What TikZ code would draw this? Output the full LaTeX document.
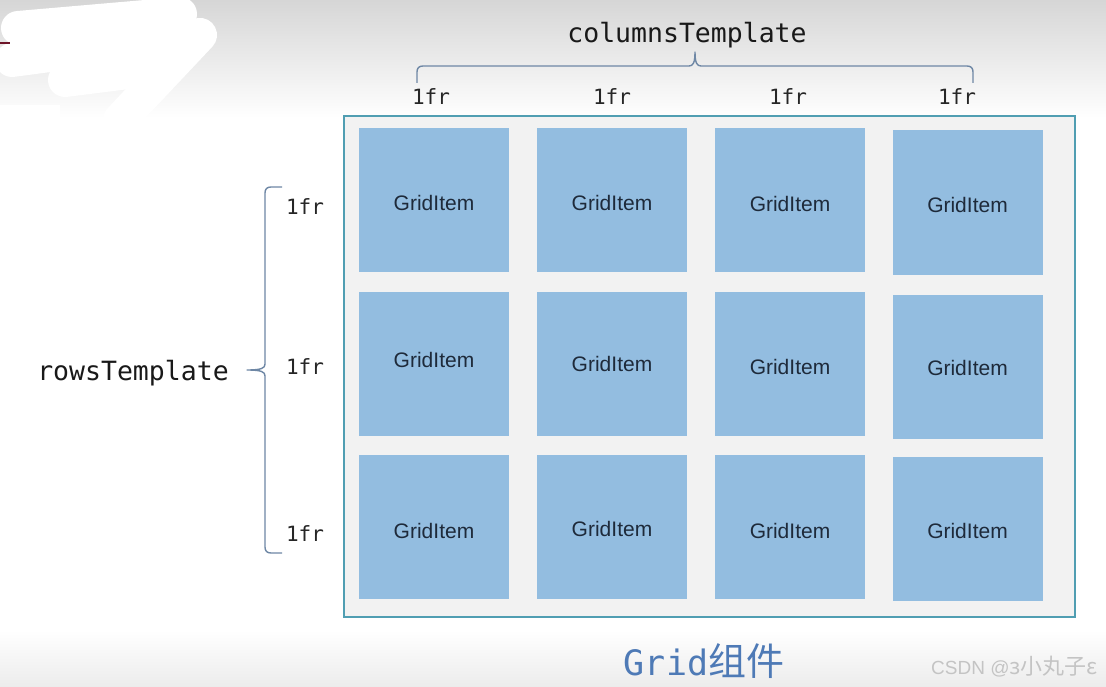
\documentclass[tikz,border=0pt]{standalone}
\usepackage{fontspec}
\setmainfont{Liberation Sans}
\newfontfamily\monof{DejaVu Sans Mono}
\newfontfamily\cjkf{Noto Sans CJK SC}
\definecolor{cellblue}{RGB}{147,189,224}
\definecolor{frameteal}{RGB}{80,158,178}
\definecolor{innergray}{RGB}{242,242,242}
\definecolor{bracecol}{RGB}{110,135,165}
\definecolor{titleblue}{RGB}{78,122,182}
\definecolor{textnavy}{RGB}{30,42,58}
\definecolor{bgtop}{RGB}{214,214,214}
\definecolor{bgbot}{RGB}{236,236,236}
\definecolor{wmgray}{RGB}{196,196,196}
\definecolor{darkred}{RGB}{110,20,40}
\tikzset{
  cell/.style={fill=cellblue, draw=none, minimum width=150pt, minimum height=144pt, inner sep=0pt},
  celltext/.style={text=textnavy, font=\fontsize{21}{24}\selectfont, inner sep=0pt},
  gi/.style={label={[celltext, yshift=-#1]center:GridItem}},
  frlabel/.style={font=\monof\fontsize{21}{24}\selectfont, text=black!85, inner sep=0pt},
  tmpl/.style={font=\monof\fontsize{26.5}{30}\selectfont, text=black!90, inner sep=0pt},
  bracestyle/.style={draw=bracecol, line width=1.4pt, line join=round},
  scrib/.style={draw=white, line width=34pt, line cap=round, line join=round}
}
\begin{document}
\begin{tikzpicture}[x=1pt,y=-1pt]
\useasboundingbox (0,0) rectangle (1106,687);
% background
\fill[white] (0,0) rectangle (1106,687);
\shade[top color=bgtop, bottom color=white] (0,0) rectangle (1106,118);
\shade[top color=white, bottom color=bgbot] (0,630) rectangle (1106,687);
% redaction scribble
\draw[scrib] (18,28) -- (180,14);
\draw[scrib] (12,60) -- (200,35) -- (120,120);
\draw[scrib] (65,80) -- (160,68);
\fill[white] (0,105) rectangle (60,118);
\draw[darkred, line width=2pt] (0,43) -- (10,43);
% container
\node[draw=frameteal, fill=innergray, line width=2.5pt, minimum width=731pt, minimum height=501pt, inner sep=0pt] (grid) at (709.5,366.5) {};
% cells
\node[cell, gi=3pt] (c11) at (434,200) {};
\node[cell, gi=3pt] (c12) at (612,200) {};
\node[cell, gi=4pt] (c13) at (790,200) {};
\node[cell, gi=2pt] (c14) at (967.5,202.5) {};
\node[cell, gi=-4pt] (c21) at (434,364) {};
\node[cell, gi=0pt] (c22) at (612,364) {};
\node[cell, gi=3pt] (c23) at (790,364) {};
\node[cell, gi=1.5pt] (c24) at (967.5,366.5) {};
\node[cell, gi=4pt] (c31) at (434,527) {};
\node[cell, gi=2pt] (c32) at (612,527) {};
\node[cell, gi=4pt] (c33) at (790,527) {};
\node[cell, gi=2pt] (c34) at (967.5,529) {};
% column labels
\node[tmpl] (colt) at (687,35) {columnsTemplate};
\node[frlabel] (f1) at (431,97) {1fr};
\node[frlabel] (f2) at (612,97) {1fr};
\node[frlabel] (f3) at (788,97) {1fr};
\node[frlabel] (f4) at (957,97) {1fr};
% top brace
\coordinate (tbl) at (417,83);
\coordinate (tbr) at (973,83);
\coordinate (tbm) at (695,52);
\draw[bracestyle] (tbl) -- (417,72) .. controls (417,68) and (419,66) .. (423,66) -- (689,66)
  .. controls (693,66) and (695,63) .. (tbm)
  .. controls (695,63) and (697,66) .. (701,66) -- (967,66)
  .. controls (971,66) and (973,68) .. (973,72) -- (tbr);
% row labels
\node[tmpl] (rowt) at (133,373) {rowsTemplate};
\node[frlabel] (r1) at (305,207) {1fr};
\node[frlabel] (r2) at (305,367) {1fr};
\node[frlabel] (r3) at (305,534) {1fr};
% left brace
\coordinate (lbt) at (282,187);
\coordinate (lbb) at (282,553);
\coordinate (lbm) at (247,370);
\draw[bracestyle] (lbt) -- (271,187) .. controls (267,187) and (265,189) .. (265,193) -- (265,364)
  .. controls (265,368) and (262,370) .. (lbm)
  .. controls (262,370) and (265,372) .. (265,376) -- (265,547)
  .. controls (265,551) and (267,553) .. (271,553) -- (lbb);
% title
\node[text=titleblue, inner sep=0pt] (title) at (704,661) {\monof\fontsize{35}{40}\selectfont Grid\cjkf\fontsize{38}{40}\selectfont 组件};
% watermark
\node[anchor=west, text=wmgray, inner sep=0pt] (wm) at (931,667) {\fontsize{19}{22}\selectfont CSDN @\cjkf\fontsize{22}{24}\selectfont з小丸子ε};
\end{tikzpicture}
\end{document}
